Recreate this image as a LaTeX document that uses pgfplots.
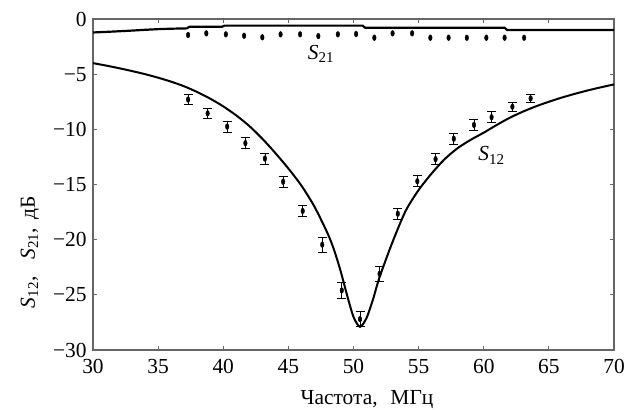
\documentclass[border=0pt]{standalone}
\usepackage{fontspec}
\setmainfont{Liberation Serif}
\usepackage{pgfplots}
\pgfplotsset{compat=1.18}
\begin{document}
\fontsize{21.5}{25}\selectfont
\begin{tikzpicture}
\useasboundingbox (-93bp,-60bp) rectangle (539bp,350bp);
\begin{axis}[
  at={(0,0)}, anchor=south west,
  scale only axis, width=521bp, height=331bp,
  xmin=30, xmax=70, ymin=-30, ymax=0,
  xtick={30,35,...,70}, xticklabels={30,35,40,45,50,55,60,65,70},
  ytick={-30,-25,...,0}, yticklabels={−30,−25,−20,−15,−10,−5,0},
  tick align=inside, major tick length=4.5bp,
  tick pos=both,
  axis line style={black!60, line width=1.1bp},
  tick style={black!60, line width=1bp},
  x tick label style={yshift=-2bp},
  y tick label style={xshift=1bp},
  xlabel={Частота,\hspace{0.6em}МГц},
  ylabel={\textit{S}\textsubscript{12},\hspace{0.8em}\textit{S}\textsubscript{21},\hspace{0.4em}дБ},
  x label style={at={(axis description cs:0.526,-0.166)}, anchor=base},
  y label style={at={(axis description cs:-0.121,0.296)}, anchor=center},
  clip=false,
]
% S21 fit
\addplot[black, line width=2.2bp] coordinates {
(30,-1.22)(31,-1.17)(32,-1.11)(33,-1.05)(34,-0.98)(35,-0.92)(36,-0.88)(37.2,-0.85)
(37.4,-0.70)(39.9,-0.70)(40.1,-0.60)(50.7,-0.60)(50.9,-0.80)(61.6,-0.80)(61.8,-1.0)(70,-1.0)};
% S21 measured
\addplot[only marks, mark=*, mark size=1.8bp, mark options={yscale=1.6, black}] coordinates {
(37.3,-1.45)(38.7,-1.30)(40.2,-1.39)(41.6,-1.52)(43.0,-1.66)(44.4,-1.39)(45.9,-1.39)
(47.3,-1.55)(48.8,-1.39)(50.2,-1.36)(51.6,-1.70)(53.0,-1.30)(54.5,-1.30)(55.9,-1.70)
(57.3,-1.70)(58.7,-1.70)(60.2,-1.70)(61.6,-1.70)(63.1,-1.70)};
% S12 fit
\addplot[black, line width=2bp, smooth, tension=0.45] coordinates {
(30,-4.0)(31,-4.22)(32,-4.46)(33,-4.72)(34,-5.0)(35,-5.32)(36,-5.68)(37,-6.1)(38,-6.62)
(39,-7.22)(40,-7.92)(41,-8.74)(42,-9.7)(43,-10.85)(44,-12.15)(45,-13.55)(46,-15.1)
(47,-17.0)(48,-19.4)(48.5,-20.9)(49,-22.8)(49.5,-25.0)(50,-27.0)(50.5,-27.9)(51,-27.1)(51.5,-25.4)
(52,-23.4)(53,-20.2)(54,-17.4)(55,-15.5)(56,-14.0)(57,-12.7)(58,-11.7)(59,-10.95)
(60,-10.3)(61,-9.6)(62,-8.95)(63,-8.4)(64,-7.92)(65,-7.5)(66,-7.12)(67,-6.78)(68,-6.47)
(69,-6.19)(70,-5.93)};
% S12 measured with error bars
\addplot[only marks, mark=*, mark size=1.8bp, mark options={yscale=1.6, black},
  error bars/.cd, y dir=both, y explicit,
  error bar style={black, line width=0.8bp},
  error mark options={rotate=90, black, mark size=4.5bp, line width=0.8bp}]
coordinates {
(37.3,-7.3) +- (0,0.45)
(38.8,-8.55) +- (0,0.45)
(40.3,-9.75) +- (0,0.5)
(41.7,-11.25) +- (0,0.5)
(43.2,-12.65) +- (0,0.5)
(44.6,-14.75) +- (0,0.5)
(46.1,-17.4) +- (0,0.5)
(47.6,-20.45) +- (0,0.7)
(49.1,-24.6) +- (0,0.75)
(50.5,-27.2) +- (0,0.7)
(52.0,-23.1) +- (0,0.7)
(53.4,-17.65) +- (0,0.5)
(54.9,-14.7) +- (0,0.5)
(56.3,-12.7) +- (0,0.5)
(57.7,-10.85) +- (0,0.5)
(59.25,-9.6) +- (0,0.5)
(60.6,-8.9) +- (0,0.5)
(62.2,-7.95) +- (0,0.4)
(63.6,-7.2) +- (0,0.4)
};
\node[fill=white, inner sep=1bp] at (axis cs:47.5,-3.2) {\textit{S}\textsubscript{21}};
\node[fill=white, inner sep=1bp] at (axis cs:60.6,-12.36) {\textit{S}\textsubscript{12}};
\end{axis}
\end{tikzpicture}
\end{document}
